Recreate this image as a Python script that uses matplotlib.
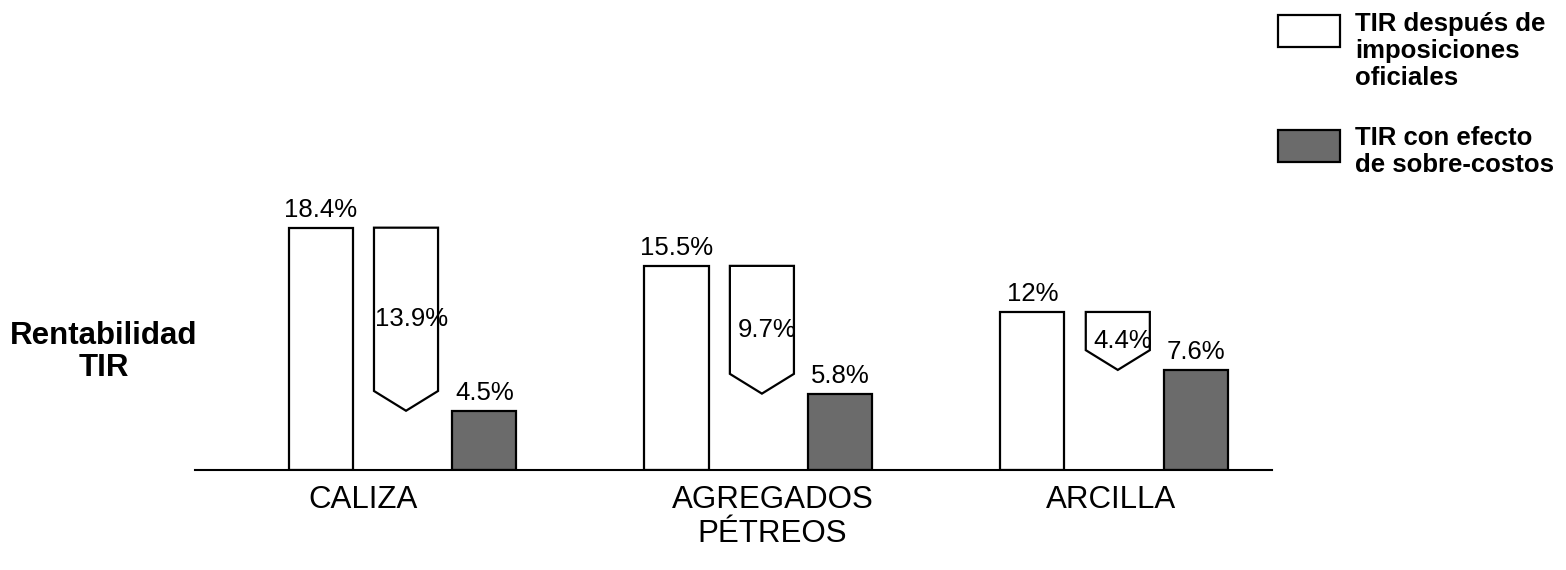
import matplotlib.pyplot as plt
from matplotlib.patches import Rectangle

plt.rcParams['font.family'] = ['Liberation Sans', 'DejaVu Sans']

categorias = ["CALIZA", "AGREGADOS\nPÉTREOS", "ARCILLA"]
tir_oficial = [18.4, 15.5, 12.0]   # TIR despues de imposiciones oficiales
sobre_costo = [13.9, 9.7, 4.4]     # caida por sobre-costos
tir_final = [4.5, 5.8, 7.6]        # TIR con efecto de sobre-costos

fig = plt.figure(figsize=(15.66, 5.70), dpi=100)
ax = fig.add_axes([0.1245, 0.1754, 0.6877, 0.4737])

w = 0.18
punta = 1.5
gris = '#6b6b6b'
for i in range(len(categorias)):
    xa, xb, xc = i - 0.24, i, i + 0.22
    ax.bar(xa, tir_oficial[i], width=w, color='white', edgecolor='black', lw=1.6)
    ax.bar(xc, tir_final[i], width=w, color=gris, edgecolor='black', lw=1.6)

    top = tir_oficial[i]
    bot = tir_oficial[i] - sobre_costo[i]
    ax.fill([xb - w/2, xb + w/2, xb + w/2, xb, xb - w/2],
            [top, top, bot + punta, bot, bot + punta],
            facecolor='white', edgecolor='black', lw=1.6)

    ax.annotate(f"{tir_oficial[i]:g}%", (xa, top), xytext=(0, 4),
                textcoords='offset points', ha='center', va='bottom', fontsize=18.5)
    ax.text(xb + 0.015, (top + bot) / 2, f"{sobre_costo[i]:g}%",
            ha='center', va='center', fontsize=18.5)
    ax.annotate(f"{tir_final[i]:g}%", (xc, tir_final[i]), xytext=(0, 4),
                textcoords='offset points', ha='center', va='bottom', fontsize=18.5)

ax.set_xlim(-0.593, 2.433)
ax.set_ylim(0, 20.5)
ax.set_xticks([-0.12, 1.03, 1.98])
ax.set_xticklabels(categorias, fontsize=22.5, linespacing=1.15)
ax.tick_params(axis='x', length=0, pad=11)
ax.set_yticks([])
for s in ['top', 'left', 'right']:
    ax.spines[s].set_visible(False)
ax.spines['bottom'].set_linewidth(1.5)
ax.patch.set_alpha(0)

fig.text(104/1566, 1 - 352/570, "Rentabilidad\nTIR", ha='center', va='center',
         fontsize=22.5, fontweight='bold', linespacing=1.1)

# leyenda
fig.add_artist(Rectangle((1278/1566, 1 - 47/570), 62/1566, 32/570,
                         transform=fig.transFigure, facecolor='white',
                         edgecolor='black', lw=1.6))
fig.add_artist(Rectangle((1278/1566, 1 - 162/570), 62/1566, 32/570,
                         transform=fig.transFigure, facecolor=gris,
                         edgecolor='black', lw=1.6))
fig.text(1355/1566, 1 - 12/570, "TIR después de\nimposiciones\noficiales",
         ha='left', va='top', fontsize=18.5, fontweight='bold', linespacing=1.15)
fig.text(1355/1566, 1 - 126/570, "TIR con efecto\nde sobre-costos",
         ha='left', va='top', fontsize=18.5, fontweight='bold', linespacing=1.15)

fig.savefig('out.png', dpi=100, facecolor='white')
